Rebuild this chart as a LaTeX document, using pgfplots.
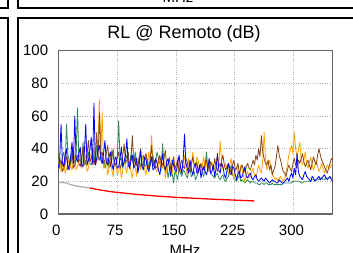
\documentclass[border=0pt]{standalone}
\usepackage{fontspec}
\setmainfont{Liberation Sans}
\usepackage{pgfplots}
\usepackage{pgfplotstable}
\pgfplotsset{compat=1.18}
\definecolor{cblue}{RGB}{0,0,255}
\definecolor{corange}{RGB}{255,165,0}
\definecolor{cgreen}{RGB}{46,139,87}
\definecolor{cbrown}{RGB}{139,69,19}
\definecolor{climgray}{RGB}{175,175,175}

\pgfplotstableread{
x B O G R
0 28 30 32 27
1.75 34 35 28 31
3.5 55 26 30 33
5.25 31 29 35 26
7 29 32 38 28
8.75 36 25 30 32
10.5 40 28 55 35
12.25 27 31 36 29
14 30 34 33 27
15.75 35 29 29 33
17.5 44 27 36 38
19.25 31 33 40 28
21 60 35 31 30
22.75 34 27 38 34
24.5 32 29 65 36
26.25 37 33 32 31
28 41 38 34 29
29.75 30 28 29 35
31.5 29 30 44 41
33.25 38 34 33 30
35 55 36 32 31
36.75 30 26 35 37
38.5 33 28 38 45
40.25 39 37 31 32
42 47 34 30 34
43.75 31 30 34 38
45.5 68 40 36 30
47.25 30 35 31 35
49 34 31 42 50
50.75 39 45 35 33
52.5 42 70 33 62
54.25 33 36 37 36
56 31 62 31 38
57.75 37 28 34 31
59.5 45 30 28 33
61.25 32 33 31 37
63 30 24 34 42
64.75 35 28 28 33
66.5 38 36 30 29
68.25 31 27 33 39
70 27 23 40 36
71.75 33 32 31 30
73.5 35 30 29 31
75.25 28 24 35 35
77 29 26 57 38
78.75 34 30 33 28
80.5 41 22 34 30
82.25 29 27 28 36
84 32 33 31 43
85.75 36 28 33 31
87.5 46 25 36 33
89.25 30 34 32 38
91 28 31 29 28
92.75 33 26 37 34
94.5 36 22 33 48
96.25 28 31 30 31
98 30 29 38 35
99.75 34 23 33 30
101.5 25 34 31 29
103.25 31 29 35 34
105 39 27 28 40
106.75 29 35 33 29
108.5 27 32 36 31
110.25 35 27 29 35
112 33 24 30 37
113.75 28 30 34 30
115.5 26 38 27 28
117.25 31 33 30 34
119 35 48 33 42
120.75 27 32 36 29
122.5 28 30 29 33
124.25 34 27 33 28
126 31 26 38 29
127.75 27 31 34 33
129.5 24 35 31 36
131.25 30 27 28 31
133 37 29 43 30
134.75 29 33 31 34
136.5 27 22 26 39
138.25 32 28 30 29
140 34 30 22 31
141.75 28 35 27 34
143.5 23 27 29 27
145.25 33 24 25 30
147 30 33 19 35
148.75 27 29 26 28
150.5 26 25 24 30
152.25 31 34 21 33
154 36 32 28 26
155.75 29 26 25 30
157.5 25 27 23 33
159.25 33 31 27 29
161 49 36 26 28
162.75 31 29 24 34
164.5 28 24 22 32
166.25 25 34 26 27
168 33 30 27 26
169.75 27 28 23 31
171.5 24 38 24 35
173.25 29 31 26 30
175 31 28 21 29
176.75 25 35 23 32
178.5 26 33 25 25
180.25 30 27 28 29
182 22 26 30 31
183.75 27 30 25 28
185.5 29 35 23 27
187.25 26 28 29 31
189 24 30 38 33
190.75 28 34 26 29
192.5 34 26 28 28
194.25 25 29 25 32
196 26 32 24 30
197.75 30 27 23 27
199.5 23 28 22 34
201.25 28 32 24 29
203 37 36 25 26
204.75 27 30 22 31
206.5 25 45 21 29
208.25 31 32 23 33
210 29 27 24 36
211.75 24 29 21 30
213.5 22 31 20 27
215.25 27 27 22 29
217 31 25 23 31
218.75 25 30 27 28
220.5 24 34 30 25
222.25 29 26 24 30
224 28 22 22 33
225.75 24 27 21 27
227.5 21 29 20 28
229.25 25 25 22 31
231 26 24 24 24
232.75 22 30 20 28
234.5 23 27 21 30
236.25 26 23 20 27
238 29 20 19 26
239.75 23 24 20 29
241.5 22 26 21 31
243.25 24 22 20 28
245 25 23 19 27
246.75 22 26 20 30
248.5 21 28 20 33
250.25 23 24 19 30
252 24 22 19 36
253.75 21 26 19 33
255.5 20 30 18 40
257.25 21 27 18 35
259 22 25 19 48
260.75 21 33 19 38
262.5 20 50 18 34
264.25 22 35 19 31
266 21 27 19 30
267.75 20 30 18 33
269.5 19 33 18 27
271.25 20 28 18 30
273 21 24 19 24
274.75 20 23 18 27
276.5 20 21 18 29
278.25 19 22 18 35
280 19 20 18 42
281.75 21 22 18 36
283.5 20 23 18 33
285.25 19 21 18 29
287 19 20 19 26
288.75 20 22 19 25
290.5 21 26 19 23
292.25 22 30 19 27
294 20 36 19 30
295.75 23 39 19 28
297.5 25 42 19 26
299.25 22 37 20 31
301 28 50 20 34
302.75 24 40 20 30
304.5 37 35 20 28
306.25 26 39 20 33
308 23 44 20 31
309.75 22 34 19 34
311.5 21 30 19 37
313.25 24 33 20 32
315 26 38 20 29
316.75 23 31 20 31
318.5 22 28 20 33
320.25 21 32 20 30
322 20 35 20 27
323.75 23 30 21 31
325.5 22 27 21 35
327.25 20 30 21 32
329 21 33 21 30
330.75 22 29 21 36
332.5 23 26 21 40
334.25 21 28 22 36
336 22 31 22 33
337.75 23 28 21 31
339.5 24 25 21 29
341.25 22 27 22 27
343 21 30 22 25
344.75 22 29 22 28
346.5 23 28 22 31
348.25 21 30 22 34
350 20 31 22 33
}\rldata

\begin{document}
\begin{tikzpicture}[x=1pt,y=1pt]
\useasboundingbox (0,0) rectangle (353,253);
\clip (0,0) rectangle (353,253);
% neighbouring panel frames
\draw[line width=2pt] (8.3,260) -- (8.3,245) -- (-5,245);
\draw[line width=2pt] (-5,234.5) -- (8.3,234.5) -- (8.3,-5);
\draw[line width=1.8pt] (17.8,260) -- (17.8,245) -- (360,245);
\draw[line width=2pt] (17.8,-5) -- (17.8,234.5) -- (360,234.5);
% labels of the panels
\node[anchor=base, inner sep=0pt, font=\fontsize{15}{18}\selectfont] at (178,250.3) {MHz};
\node[anchor=base, inner sep=0pt, font=\fontsize{18}{22}\selectfont] at (184,214) {RL @ Remoto (dB)};
\node[anchor=north, inner sep=0pt, font=\fontsize{15}{18}\selectfont] at (185,8) {MHz};
\begin{axis}[
  at={(58.3pt,39pt)}, anchor=south west,
  scale only axis, width=274.4pt, height=163.3pt,
  xmin=0, xmax=350, ymin=0, ymax=100,
  xtick={0,75,150,225,300}, ytick={0,20,40,60,80,100},
  grid=major,
  major grid style={dotted, color=black!30, line width=0.8pt},
  axis line style={color=black!60, line width=1.3pt},
  major tick length=0pt,
  tick label style={font=\fontsize{15}{18}\selectfont},
  /pgf/number format/assume math mode=true,
  yticklabel style={anchor=east, inner sep=0pt, xshift=-10pt},
  xticklabel style={anchor=north, inner sep=0pt, yshift=-11pt, xshift=-2pt},
  every axis plot/.append style={line join=round},
]
\addplot[no markers, color=cgreen, line width=0.8pt] table[x=x, y=G] {\rldata};
\addplot[no markers, color=corange, line width=0.8pt] table[x=x, y=O] {\rldata};
\addplot[no markers, color=cbrown, line width=0.8pt] table[x=x, y=R] {\rldata};
\addplot[no markers, color=cblue, line width=0.8pt] table[x=x, y=B] {\rldata};
\addplot[no markers, color=climgray, line width=1.3pt] coordinates {
(1,19.5) (10,19) (15,18.1) (20,17.5) (25,17.0) (30,16.6) (35,16.3) (40,16.0)};
\addplot[no markers, color=red, line width=1.3pt] coordinates {
(40,16.0) (50,15.0) (60,14.2) (70,13.5) (80,13.0) (100,12.0) (125,11.0) (150,10.2) (175,9.6) (200,9.0) (225,8.5) (250,8.0)};
\end{axis}
\end{tikzpicture}
\end{document}
